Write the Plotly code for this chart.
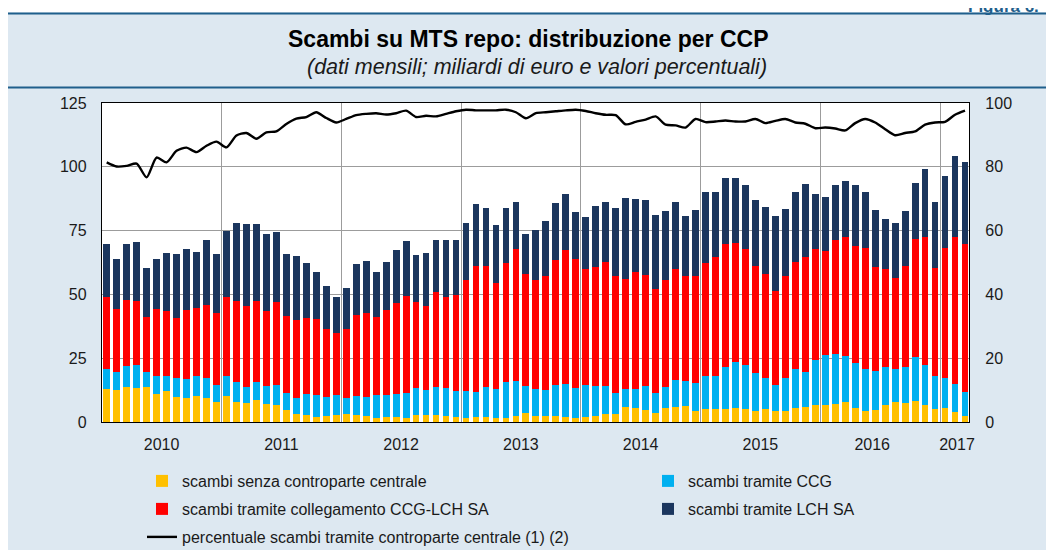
import plotly.graph_objects as go

# ---------------- data (monthly, Jan 2010 - Mar 2017) ----------------
months = [f"{y}-{m:02d}" for y in range(2010, 2018) for m in range(1, 13)][:87]

senza_ccp = [12.8, 12.6, 13.6, 13.2, 13.7, 11.0, 12.2, 9.7, 9.3, 10.2, 9.6, 7.9,
             10.2, 7.9, 7.3, 8.6, 6.9, 6.5, 4.7, 3.1, 2.7, 1.8, 2.4, 2.7,
             3.1, 2.6, 2.4, 1.6, 2.1, 1.8, 1.6, 2.6, 2.6, 2.9, 2.2, 1.8,
             1.4, 1.8, 1.8, 1.4, 1.7, 2.4, 3.4, 2.4, 2.4, 2.4, 1.8, 1.6,
             1.8, 2.4, 3.1, 3.1, 5.8, 5.4, 4.7, 3.4, 5.5, 5.8, 6.2, 4.2,
             5.2, 5.0, 5.2, 5.5, 5.2, 4.2, 5.0, 4.2, 4.2, 5.5, 5.9, 6.8,
             6.5, 7.2, 7.7, 5.6, 4.5, 4.8, 6.5, 7.7, 7.3, 8.1, 6.7, 5.1,
             5.4, 3.8, 2.4]

tramite_ccg = [7.9, 7.0, 8.4, 9.1, 5.9, 7.1, 5.9, 7.6, 7.5, 7.9, 7.8, 6.5,
               7.9, 7.8, 6.3, 7.1, 7.1, 7.9, 6.6, 6.2, 8.3, 8.8, 7.3, 7.8,
               6.5, 7.5, 7.3, 9.1, 8.4, 9.3, 9.7, 10.6, 9.8, 10.7, 11.0, 10.2,
               10.9, 10.1, 11.8, 11.4, 13.9, 13.6, 10.7, 10.4, 10.0, 12.0, 13.0, 11.6,
               12.6, 11.7, 11.0, 8.2, 7.0, 7.4, 9.4, 7.9, 8.2, 10.6, 9.8, 11.2,
               12.9, 13.1, 16.3, 18.1, 17.3, 14.9, 12.3, 10.2, 13.1, 15.2, 13.7, 17.5,
               19.7, 19.5, 18.3, 17.4, 16.2, 15.1, 15.0, 13.0, 14.4, 17.2, 15.6, 13.0,
               11.9, 11.0, 9.3]

collegamento = [28.3, 24.6, 25.9, 25.2, 21.5, 26.1, 25.4, 23.3, 26.9, 26.7, 28.4, 28.3,
                30.9, 31.7, 31.8, 31.6, 29.5, 32.7, 30.3, 30.8, 29.7, 29.8, 26.8, 24.3,
                26.9, 31.8, 33.2, 30.4, 33.2, 35.5, 38.2, 33.7, 33.0, 37.5, 35.8, 37.7,
                43.5, 49.4, 47.7, 41.5, 46.7, 51.8, 44.0, 43.0, 44.9, 49.2, 52.7, 50.7,
                45.6, 46.6, 48.5, 46.0, 43.2, 45.8, 43.5, 40.8, 42.1, 43.6, 41.3, 41.9,
                44.2, 46.6, 48.3, 46.6, 45.3, 42.2, 40.8, 36.9, 40.0, 42.1, 45.1, 43.5,
                40.8, 44.5, 46.3, 45.9, 47.6, 40.8, 38.6, 35.8, 39.6, 46.4, 50.2, 42.4,
                51.0, 57.5, 58.2]

tramite_lch = [20.8, 19.5, 21.9, 22.9, 19.2, 19.8, 22.7, 25.2, 24.1, 21.8, 25.5, 23.1,
               26.0, 30.6, 32.2, 30.3, 30.1, 27.3, 24.2, 25.0, 21.6, 18.4, 16.6, 14.2,
               16.0, 19.9, 20.2, 17.8, 19.0, 20.8, 21.4, 18.6, 20.8, 20.4, 22.5, 21.8,
               22.2, 24.3, 22.5, 22.9, 21.7, 18.5, 15.6, 19.6, 21.4, 22.3, 21.9, 18.4,
               20.4, 23.9, 23.7, 26.6, 31.6, 28.8, 29.4, 29.1, 26.9, 26.3, 23.5, 25.8,
               28.0, 25.6, 25.9, 25.6, 25.1, 25.6, 26.1, 29.5, 26.2, 27.3, 28.6, 21.7,
               21.2, 21.6, 22.3, 24.0, 22.0, 22.4, 19.5, 21.5, 21.2, 21.8, 26.7, 25.9,
               28.2, 31.8, 31.8]

percentuale_ccp = [81.4, 80.1, 80.3, 81.0, 76.7, 82.9, 81.4, 85.0, 86.0, 84.6, 86.6, 87.9,
                   86.1, 89.8, 90.6, 88.8, 90.8, 91.1, 93.4, 95.1, 95.6, 97.1, 95.3, 93.9,
                   95.0, 96.2, 96.6, 96.8, 96.4, 96.8, 97.6, 95.6, 96.0, 95.8, 96.6, 97.4,
                   97.9, 97.7, 97.7, 97.7, 97.9, 97.1, 95.2, 96.8, 97.1, 97.4, 97.7, 97.9,
                   97.5, 96.8, 96.3, 96.2, 93.3, 94.1, 94.8, 95.8, 93.2, 93.0, 92.3, 95.0,
                   94.0, 94.2, 94.5, 94.2, 94.2, 95.0, 93.7, 94.4, 95.0, 93.9, 93.5, 92.1,
                   92.3, 92.0, 91.4, 93.7, 95.0, 93.9, 91.8, 89.9, 90.6, 91.1, 93.2, 93.9,
                   94.1, 96.3, 97.6]

year_labels = ["2010", "2011", "2012", "2013", "2014", "2015", "2016", "2017"]
year_label_pos = [5.5, 17.5, 29.5, 41.5, 53.5, 65.5, 76.7, 85.2]
year_bounds = [11.5, 23.5, 35.5, 47.5, 59.5, 71.5, 83.5]

x_idx = list(range(len(months)))

# ---------------- styling ----------------
FONT = "Liberation Sans, Arial, Helvetica, sans-serif"
C_YEL = "#FFC000"
C_BLU = "#00B0F0"
C_RED = "#FF0000"
C_NAV = "#1B365E"
BG = "#DDE8F1"
RULE = "#1F5F8C"
GRID = "#9C9C9C"

# the page body has an 8px margin: the figure starts at screen (8, 8)
OFF = 8
W, H = 1054 - OFF, 550 - OFF
L, R, T, B = 102 - OFF, 85, 103 - OFF, 128
PW, PH = W - L - R, H - T - B


def px(xs):  # screen x -> paper x
    return (xs - OFF - L) / PW


def py(ys):  # screen y -> paper y
    return (H - B - (ys - OFF)) / PH


fig = go.Figure()

bar_common = dict(x=x_idx, customdata=months, marker_line_width=0,
                  hovertemplate="%{customdata}: %{y:.1f}<extra></extra>")
fig.add_trace(go.Bar(y=senza_ccp, name="scambi senza controparte centrale",
                     marker_color=C_YEL, legend="legend", **bar_common))
fig.add_trace(go.Bar(y=tramite_ccg, name="scambi tramite CCG",
                     marker_color=C_BLU, legend="legend2", **bar_common))
fig.add_trace(go.Bar(y=collegamento, name="scambi tramite collegamento CCG-LCH SA",
                     marker_color=C_RED, legend="legend3", **bar_common))
fig.add_trace(go.Bar(y=tramite_lch, name="scambi tramite LCH SA",
                     marker_color=C_NAV, legend="legend4", **bar_common))
fig.add_trace(go.Scatter(x=x_idx, y=percentuale_ccp, yaxis="y2", mode="lines",
                         name="percentuale scambi tramite controparte centrale (1) (2)",
                         line=dict(color="black", width=2.4, shape="spline", smoothing=0.7),
                         customdata=months,
                         hovertemplate="%{customdata}: %{y:.1f}%<extra></extra>",
                         legend="legend5"))

LEG_FONT = dict(family=FONT, size=16, color="#1a1a1a")


def leg(xtext, yrow):
    return dict(orientation="v", x=px(xtext - 40), xanchor="left",
                y=py(yrow), yanchor="middle", bgcolor="rgba(0,0,0,0)",
                font=LEG_FONT)


fig.update_layout(
    width=W, height=H,
    margin=dict(l=L, r=R, t=T, b=B, pad=0, autoexpand=False),
    paper_bgcolor=BG, plot_bgcolor="white",
    barmode="stack", bargap=0.32,
    font=dict(family=FONT, size=16, color="#1a1a1a"),
    showlegend=True,
    legend=leg(182, 481),
    legend2=leg(688, 481),
    legend3=leg(182, 509),
    legend4=leg(688, 509),
    legend5=leg(182, 537),
    xaxis=dict(range=[-0.47, 86.4], tickmode="array", tickvals=year_label_pos,
               ticktext=year_labels, showgrid=False, zeroline=False,
               ticks="outside", ticklen=8, tickcolor="rgba(0,0,0,0)",
               showline=True, mirror=True, linecolor="black", linewidth=1.3,
               tickfont=dict(size=16),
               minor=dict(tickmode="array", tickvals=year_bounds, showgrid=True,
                          gridcolor=GRID, gridwidth=1, ticks="")),
    yaxis=dict(range=[0, 125], tickmode="linear", tick0=0, dtick=25,
               showgrid=True, gridcolor=GRID, gridwidth=1, zeroline=False,
               ticks="outside", ticklen=11, tickcolor="rgba(0,0,0,0)",
               showline=True, linecolor="black", linewidth=1.3,
               tickfont=dict(size=16)),
    yaxis2=dict(range=[0, 100], tickmode="linear", tick0=0, dtick=20,
                overlaying="y", side="right", showgrid=False, zeroline=False,
                ticks="outside", ticklen=12, tickcolor="rgba(0,0,0,0)",
                showline=True, linecolor="black", linewidth=1.3,
                tickfont=dict(size=16)),
)

# header: white strip above the rule, and the two rules
shapes = [
    dict(type="rect", xref="paper", yref="paper", x0=px(0), x1=px(1054), y0=py(12.5), y1=py(0),
         fillcolor="white", line_width=0, layer="above"),
    dict(type="line", xref="paper", yref="paper", x0=px(8), x1=px(1054), y0=py(13.5), y1=py(13.5),
         line=dict(color=RULE, width=2.2), layer="above"),
    dict(type="line", xref="paper", yref="paper", x0=px(8), x1=px(1054), y0=py(87.5), y1=py(87.5),
         line=dict(color=RULE, width=1.8), layer="above"),
]
fig.update_layout(shapes=shapes)

fig.add_annotation(text="<b>Scambi su MTS repo: distribuzione per CCP</b>",
                   xref="paper", yref="paper", x=px(528), y=py(39),
                   xanchor="center", yanchor="middle", showarrow=False,
                   font=dict(family=FONT, size=23, color="black"))
fig.add_annotation(text="<i>(dati mensili; miliardi di euro e valori percentuali)</i>",
                   xref="paper", yref="paper", x=px(537), y=py(67),
                   xanchor="center", yanchor="middle", showarrow=False,
                   font=dict(family=FONT, size=21.5, color="#1a1a1a"))
fig.add_annotation(text="<b>Figura 6.</b>",
                   xref="paper", yref="paper", x=px(966), y=py(6),
                   xanchor="left", yanchor="middle", showarrow=False,
                   font=dict(family=FONT, size=17, color=RULE))

fig.write_html("out.html")
